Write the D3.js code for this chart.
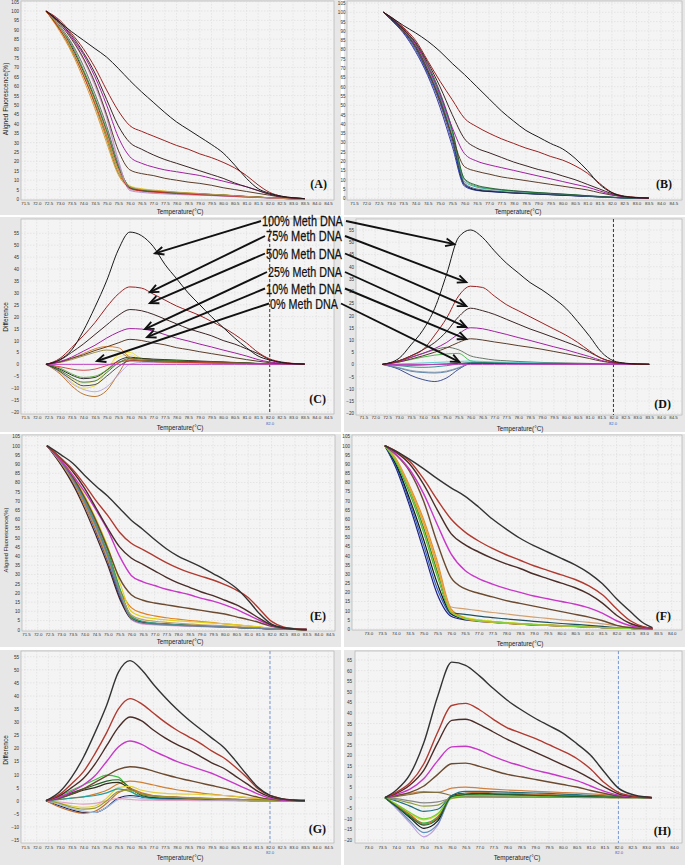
<!DOCTYPE html>
<html><head><meta charset="utf-8">
<script src="https://cdn.jsdelivr.net/npm/d3@7"></script>
<style>body{margin:0;background:#fff}svg{display:block}</style>
</head><body><svg id="c" width="685" height="865"></svg>
<script>
// ---------- DATA ----------
const tempsA = [72.4,73.0,73.5,74.0,74.5,75.0,75.5,76.0,76.5,77.0,77.5,78.0,78.5,79.0,79.5,80.0,80.5,81.0,81.5,82.0,82.5,83.0,83.5];
const a100 = [100,94,89,84.5,80,75.5,69.5,63,57,51.5,46,41,37,33,29,24.5,18,11,5.5,3,1.5,0.7,0.2];
const a75 = [100,95,88,80,70,58,47,39,36,33.5,31,28.5,26.5,24,22,19.5,16.5,12.5,7.5,3.5,1.5,0.6,0.2];
const a50 = [100,94,87,78,67,53,39,30,26.5,23.5,21,19,17,15,13,11,8.5,6.5,4.5,2.5,1.2,0.5,0.2];
const a25 = [100,94,86,77,65,50,33,22.5,19,17,15.5,14.5,13.5,12.5,11,9.5,8,6.5,4.5,2.5,1.2,0.5,0.2];
const a10 = [100,93,85,75,62,45,26,15.5,13.5,12.5,11,10,9,8.3,7.3,6,5,4,3,2,1,0.5,0.2];
const aSamples = [
 [100,90,80,67,51,33,15,7,5.5,4.8,4.2,3.7,3.3,2.9,2.5,2.2,1.8,1.4,1.0,0.7,0.4,0.2,0.1],
 [100,89,78,64,48,30,13,6,4.8,4.2,3.8,3.4,3.0,2.7,2.4,2.1,1.7,1.3,1.0,0.7,0.4,0.2,0.1],
 [100,90,79,66,50,32,14,6.5,5,4.4,3.9,3.5,3.1,2.8,2.4,2.1,1.7,1.3,1.0,0.6,0.3,0.1,0],
 [100,91,81,68,53,36,17,6,4.5,4,3.6,3.2,2.9,2.6,2.3,2,1.7,1.3,1,0.6,0.3,0.1,0],
 [100,91,82,69,54,37,18,6.5,4.7,4.1,3.7,3.3,3.0,2.7,2.4,2.1,1.7,1.3,1.0,0.6,0.3,0.1,0],
 [100,92,83,71,56,39,19,6,4.3,3.8,3.4,3.0,2.7,2.4,2.1,1.8,1.5,1.2,0.9,0.6,0.3,0.1,0],
 [100,93,85,74,60,43,20,5,3.8,3.3,3.0,2.7,2.4,2.1,1.9,1.6,1.3,1.0,0.8,0.5,0.3,0.1,0],
 [100,94,86,75,61,44,21,4.5,3.5,3.0,2.7,2.4,2.2,2.0,1.8,1.5,1.3,1.0,0.8,0.5,0.3,0.1,0],
 [100,90,80,66,51,34,16,5.5,4.3,3.7,3.3,2.9,2.6,2.3,2.0,1.7,1.4,1.1,0.9,0.7,0.5,0.3,0.1],
 [100,91,80,67,52,35,16,6.5,5.2,4.6,4.1,3.6,3.2,2.9,2.5,2.2,1.8,1.4,1.0,0.7,0.4,0.2,0.1]];
const aColors = ['#e8d000','#d88a1a','#7d7a20','#111111','#2e8b2e','#555555','#e0a0c0','#a890d0','#cc2020','#c8a060'];

const tempsB = [72.7,73.0,73.5,74.0,74.5,75.0,75.5,76.0,76.5,77.0,77.5,78.0,78.5,79.0,79.5,80.0,80.5,81.0,81.5,82.0,82.5,83.0,83.5];
const b100 = [100,97.5,93,89,84.5,79,72.5,66.5,60,53.5,47,41.5,36.5,33,29.5,26.5,21.5,15,7.5,3,1,0.4,0.1];
const b75 = [100,97.5,92,85,74,63,53,43,38.5,35,32,29.5,27,25,22.5,20.5,17.5,13.5,8,3.2,1.2,0.5,0.2];
const b50 = [100,97,91,84,73,60,45,32,27,24.5,22,19.5,17.5,15.5,14,12,10,7.5,5,2.5,1,0.4,0.1];
const b25 = [100,97,91,83,71,56,38,24,20,18,16.5,15,13.5,12,10.5,9,7.5,6,4,2,0.8,0.3,0.1];
const b10 = [100,97,90,82,69,52,33,17,14.5,13,11.5,10.5,9.5,8.5,7.5,6.5,5.5,4.5,3,1.7,0.8,0.3,0.1];
const bSamples = [
 [100,96,89,79,66,49,28,6.5,4.2,3.6,3.2,2.8,2.5,2.2,1.9,1.6,1.3,1.0,0.7,0.4,0.2,0.1,0],
 [100,96.5,89.5,80,67,51,30,7,4.4,3.7,3.3,2.9,2.6,2.3,2.0,1.7,1.4,1.1,0.8,0.5,0.2,0.1,0],
 [100,96.5,90,81,68,53,32,7.5,4.5,3.8,3.3,2.9,2.6,2.3,2.0,1.7,1.4,1.1,0.8,0.5,0.2,0.1,0],
 [100,97,91,82,70,55,35,9,6,5,4.3,3.8,3.3,2.9,2.5,2.1,1.7,1.3,0.9,0.5,0.3,0.1,0],
 [100,97,91,83,71,56,36,10,6.5,5.3,4.5,3.9,3.4,3.0,2.6,2.2,1.8,1.3,0.9,0.5,0.3,0.1,0],
 [100,97,91.5,83.5,72,57,37,10.5,7,5.6,4.7,4.1,3.6,3.1,2.7,2.3,1.9,1.4,1.0,0.6,0.3,0.1,0],
 [100,96.8,90.5,81.5,69,54,33,8,5,4.2,3.6,3.1,2.7,2.4,2.1,1.8,1.5,1.1,0.8,0.5,0.2,0.1,0]];
const bColors = ['#1a1a8c','#2040c0','#111111','#20a0a0','#30a030','#205030','#405070'];

const tempsC = [72.4,73.0,73.5,74.0,74.5,75.0,75.5,76.0,76.5,77.0,77.5,78.0,78.5,79.0,79.5,80.0,80.5,81.0,81.5,82.0,82.5,83.0,83.5];
const c100 = [0,2,6,14,24,35,48,55.5,54,49.5,42,36,30,25,20,15.5,11,7,3.5,1.8,0.8,0.3,0.1];
const c75 = [0,2.5,7,12,17.5,24,29.5,32.5,32,29.5,27,24.5,22.5,20.5,18,15.5,12.5,9,5,2.3,1,0.4,0.1];
const c50 = [0,1.8,5,8.5,12.5,16.5,20.5,23,22.5,21,19,17,15,13.5,12,10,8.5,6.5,4.5,2,0.8,0.3,0.1];
const c25 = [0,1.2,3,5.5,8,11,13.5,15,14.8,14,12.5,11,9.8,8.5,7.3,6,4.8,3.5,2,1,0.5,0.2,0.1];
const c10 = [0,1,2.5,4,5.8,7.3,9,10.5,10,9,8.2,7,6.2,5.3,4.5,3.7,2.8,2,1.3,0.7,0.3,0.1,0];
const c0 = [0,0,0,0,0,0,0,0,0,0,0,0,0,0,0,0,0,0,0,0,0,0,0];
const cSamples = [
 [0,-4,-9,-12.5,-13.5,-11,-4,2.5,2.5,2,1.7,1.5,1.3,1.2,1.0,0.9,0.7,0.5,0.3,0.2,0.1,0,0],
 [0,-3.5,-8,-10.5,-11.5,-9.5,-4.5,0,0.8,0.8,0.7,0.6,0.5,0.5,0.4,0.3,0.3,0.2,0.1,0.1,0,0,0],
 [0,-3,-7.5,-10,-9,-3,4,5,2.5,1.8,1.5,1.3,1.2,1.0,0.9,0.8,0.6,0.5,0.3,0.2,0.1,0,0],
 [0,-2.5,-6,-8,-7,-2,3,4,2,1.5,1.3,1.2,1.0,0.9,0.8,0.7,0.5,0.4,0.3,0.2,0.1,0,0],
 [0,-2,-4.5,-6,-5.5,-2.5,1.5,3,2.5,2.2,2,1.8,1.6,1.4,1.2,1.0,0.8,0.6,0.4,0.2,0.1,0,0],
 [0,-2.5,-5.5,-7.5,-7,-3.5,0.5,2.5,2.2,2,1.8,1.6,1.4,1.2,1.0,0.9,0.7,0.5,0.3,0.2,0.1,0,0],
 [0,-1.5,-4,-5.5,-5,-2.5,0.5,2,1.8,1.7,1.5,1.4,1.2,1.1,1.0,0.8,0.7,0.5,0.3,0.2,0.1,0,0],
 [0,-3,-6.5,-9,-8.5,-5,-1,1.5,1.6,1.5,1.4,1.2,1.1,1.0,0.9,0.8,0.6,0.5,0.3,0.2,0.1,0,0],
 [0,1,2.5,4.5,6.5,7.5,7,3,1.5,1.2,1.0,0.9,0.8,0.7,0.6,0.5,0.4,0.3,0.2,0.1,0,0,0],
 [0,0.8,2,3.5,5,6,5.5,2.5,1.5,1.2,1.0,0.9,0.8,0.7,0.6,0.5,0.4,0.3,0.2,0.1,0,0,0],
 [0,-1,-2,-2.5,-2,-0.5,1,1.5,1.3,1.1,1.0,0.9,0.8,0.7,0.6,0.5,0.5,0.4,0.3,0.2,0.1,0,0]];
const cColors = ['#b06010','#b0a0e0','#e8d830','#f0e070','#111111','#2a6a2a','#50a030','#303030','#d07020','#908030','#d03030'];

const tempsD = [72.3,73.0,73.5,74.0,74.5,75.0,75.5,76.0,76.5,77.0,77.5,78.0,78.5,79.0,79.5,80.0,80.5,81.0,81.5,82.0,82.5,83.0,83.5];
const d100 = [0,2.5,8,14,23,37,52,55,52,46.5,41.5,37.5,33.5,30.5,27,23,17.5,11.5,5,1.5,0.5,0.2,0.1];
const d75 = [0,1.5,3.5,6,12,19,28,32,31.5,28,24.5,22,19.5,17,14.5,12,9,5.5,2.5,1,0.4,0.1,0];
const d50 = [0,1.5,3.5,6,9,13.5,19.5,23,22,20.5,18.5,16.5,14.5,12.8,11,9.2,7.3,5,2.5,1,0.4,0.1,0];
const d25 = [0,1.2,2.8,4.5,6.5,9,12.5,15,14.6,13.5,12.3,11,9.8,8.5,7.2,6,4.6,3.2,1.6,0.7,0.3,0.1,0];
const d10 = [0,1,2.2,3.5,5,6.8,9,10.5,10,9.2,8.5,7.7,7,6.2,5.3,4.4,3.4,2.4,1.3,0.6,0.3,0.1,0];
const d0 = [0,0,0,0,0,0,0,0,0,0,0,0,0,0,0,0,0,0,0,0,0,0,0];
const dSamples = [
 [0,-2,-4.5,-6.2,-7,-5.5,-2,0.3,0.5,0.5,0.4,0.4,0.3,0.3,0.2,0.2,0.1,0.1,0,0,0,0,0],
 [0,-1.5,-2.8,-3.3,-3.5,-3,-1.5,0.5,0.6,0.5,0.4,0.4,0.3,0.3,0.2,0.2,0.1,0.1,0,0,0,0,0],
 [0,-1.3,-2.5,-3,-3.2,-2.7,-1.3,0.3,0.5,0.4,0.4,0.3,0.3,0.2,0.2,0.1,0.1,0,0,0,0,0,0],
 [0,1.5,3,4.5,6,7,6,3.5,2.5,1.8,1.5,1.2,1.0,0.8,0.7,0.6,0.5,0.4,0.3,0.2,0.1,0,0],
 [0,1,2,3,3.8,4.3,4.5,1.5,0.8,0.6,0.5,0.4,0.4,0.3,0.3,0.2,0.2,0.1,0.1,0,0,0,0],
 [0,0.2,0.4,0.6,0.8,1.0,1.2,1.4,1.2,1.0,0.9,0.8,0.7,0.6,0.5,0.4,0.3,0.2,0.1,0.1,0,0,0],
 [0,-0.2,-0.3,-0.2,0,0.2,0.4,0.5,0.5,0.4,0.4,0.3,0.3,0.2,0.2,0.2,0.1,0.1,0,0,0,0,0],
 [0,-0.5,-1,-1.2,-1,-0.5,0.2,0.8,0.7,0.6,0.5,0.4,0.4,0.3,0.3,0.2,0.2,0.1,0.1,0,0,0,0]];
const dColors = ['#203080','#4070a0','#8090a8','#506050','#30b030','#40c8c8','#111111','#208080'];

const tempsE = [72.4,73.0,73.5,74.0,74.5,75.0,75.5,76.0,76.5,77.0,77.5,78.0,78.5,79.0,79.5,80.0,80.5,81.0,81.5,82.0,82.5,83.0,83.5];
const e100 = [100,95,90.5,84,78,72.5,66,59.5,54.5,49,44,40,37,34,30.5,27,22.5,16,8.5,3,1.1,0.4,0.1];
const e75 = [100,93,87,79,70,62,53,47,43.5,40,36.5,33.5,31,29,27,24.5,21.5,17.5,11,4.5,1.5,0.5,0.1];
const e50 = [100,93,86,77,66,55,45,39,35.5,32,28.5,25.5,23,20.5,18.5,16,13.5,10,6,2.5,0.9,0.3,0.1];
const e25 = [100,92,84,75,65,54,40,29.5,26,24,22,20.5,19,17,15.5,13.5,11,8,5,2.3,0.9,0.3,0.1];
const e10 = [100,92,83,72,59,44,28,19,16,14.5,13.5,12.5,11.5,10.5,9.5,8.5,7,5.5,3.8,1.8,0.7,0.2,0.1];
const eSamples = [
 [100,90,80,68,53,37,18,6,3.5,3,2.6,2.3,2.0,1.8,1.6,1.4,1.2,0.9,0.7,0.4,0.2,0.1,0],
 [100,90.5,81,69,55,39,20,6.5,4,3.3,2.9,2.6,2.3,2.0,1.8,1.5,1.3,1.0,0.7,0.4,0.2,0.1,0],
 [100,90,80.5,68,54,38,22,12,9,7.5,6.5,5.7,5,4.4,3.8,3.2,2.6,2,1.4,0.8,0.4,0.1,0],
 [100,92,83,72,59,43,23,7,4,3.2,2.8,2.5,2.2,2.0,1.8,1.5,1.3,1.0,0.7,0.4,0.2,0.1,0],
 [100,92.5,84,73,60,45,26,10,7,6,5.3,4.8,4.4,4.0,3.6,3.2,2.7,2.1,1.5,0.8,0.4,0.1,0],
 [100,91.5,82.5,71,57,41,22,7,4.2,3.5,3.0,2.7,2.4,2.1,1.8,1.6,1.3,1.0,0.7,0.4,0.2,0.1,0],
 [100,91,81.5,70,56,40,21,5.5,3,2.6,2.3,2.1,1.9,1.7,1.5,1.3,1.1,0.9,0.6,0.4,0.2,0.1,0],
 [100,89.5,79,66,51,35,17,6,4,3.4,3.0,2.7,2.4,2.1,1.9,1.6,1.3,1.0,0.7,0.4,0.2,0.1,0],
 [100,91,82,70.5,57,41,22,7.5,4.5,3.6,3.1,2.7,2.4,2.1,1.8,1.6,1.3,1.0,0.7,0.4,0.2,0.1,0],
 [100,90.5,81,69,55,39,21,8,5.5,4.6,4.0,3.5,3.1,2.7,2.4,2.1,1.7,1.3,0.9,0.5,0.2,0.1,0],
 [100,91,81.5,69.5,56,40,20,6,3.6,3.0,2.6,2.3,2.1,1.9,1.7,1.5,1.2,1.0,0.7,0.4,0.2,0.1,0]];
const eColors = ['#3050c0','#111111','#e08020','#30a030','#e0d020','#70a020','#e0a0d0','#402020','#30a090','#c0a060','#7080a0'];

const tempsF = [73.6,74.0,74.5,75.0,75.5,76.0,76.5,77.0,77.5,78.0,78.5,79.0,79.5,80.0,80.5,81.0,81.5,82.0,82.5,83.0,83.3];
const f100 = [100,97,92.5,87.5,82,77,72.5,66.5,60,54.5,49.5,45.5,42,38.5,35,30.5,24.5,16.5,9.5,3,0.8];
const f75 = [100,97,91.5,82,70.5,60,53,48,44,40.5,37.5,34.5,32,29.5,27,23.5,18.5,11,4.5,1.2,0.4];
const f50 = [100,96.5,90,79,65,52,46,42,38.5,35.5,33,30,27.5,25,22.5,19,14,7.5,3,1,0.3];
const f25 = [100,95.5,87,74,57,41,32,27.5,24.5,22,20,18,16.5,15,13.5,11.5,8.5,4.5,1.8,0.6,0.2];
const f10 = [100,95,86,70,47,28,22,19.5,17.5,15.5,14,12.5,11,9.5,8,6.5,4.5,2,0.8,0.3,0.1];
const fSamples = [
 [100,88,67,43,19,7,5,4.2,3.6,3.1,2.7,2.3,2.0,1.7,1.4,1.1,0.8,0.5,0.3,0.1,0],
 [100,89,69,46,22,8,5.5,4.6,3.9,3.3,2.8,2.4,2.1,1.8,1.5,1.2,0.9,0.6,0.3,0.1,0],
 [100,90,71,49,25,8.5,5.5,4.5,3.8,3.2,2.7,2.3,2.0,1.7,1.4,1.1,0.8,0.5,0.3,0.1,0],
 [100,91,74,53,29,9.5,6,4.8,4.0,3.4,2.9,2.5,2.1,1.8,1.5,1.2,0.9,0.6,0.3,0.1,0],
 [100,92,76,56,32,10,6.5,5,4.2,3.5,3.0,2.6,2.2,1.9,1.6,1.3,1.0,0.6,0.3,0.1,0],
 [100,93,78,60,37,11,6,4.5,3.8,3.2,2.8,2.4,2.1,1.8,1.5,1.2,0.9,0.6,0.3,0.1,0],
 [100,92.5,77,58,35,12,11,10,9,8.2,7.3,6.5,5.8,5.0,4.3,3.6,2.8,1.8,0.8,0.2,0],
 [100,91.5,75,55,31,9,8,7,6.2,5.5,4.8,4.2,3.6,3.0,2.5,2.0,1.4,0.8,0.4,0.1,0],
 [100,92.5,77,58,34,10,5.5,4.3,3.6,3.0,2.6,2.2,1.9,1.6,1.3,1.0,0.7,0.5,0.3,0.1,0],
 [100,91.5,75,54,30,9,5.8,4.6,3.9,3.3,2.8,2.4,2.0,1.7,1.4,1.1,0.8,0.5,0.3,0.1,0]];
const fColors = ['#202080','#3060c0','#111111','#30b030','#e0e020','#e09020','#d0a070','#205060','#f0a030','#80d040'];

const tempsG = [72.4,73.0,73.5,74.0,74.5,75.0,75.5,76.0,76.5,77.0,77.5,78.0,78.5,79.0,79.5,80.0,80.5,81.0,81.5,82.0,82.5,83.0,83.5];
const g100 = [0,3.5,9,16.5,26,36.5,49,53.5,50,44.5,39.5,35,31,27.5,24,20.5,15.5,10,5,2,0.8,0.3,0.1];
const g75 = [0,2.5,6.5,11,18,26,35,39,37,33.5,30,27,24.5,22,19,16.5,13,9,4.5,2,0.8,0.3,0.1];
const g50 = [0,2,5,8.5,14,21,28,32,30.5,27,24,21.5,19.5,17,14.5,12.5,9.5,6.5,3.5,1.5,0.6,0.2,0.1];
const g25 = [0,1.5,3.5,6,9.5,15,20.5,22.8,21.5,19,17,15,13.5,12,10.5,8.5,6.5,4.5,2.5,0.9,0.3,0.1,0];
const g10 = [0,1,2.5,4.5,7,9.5,12,13,12.5,11.3,10,8.8,7.8,6.8,5.8,4.8,3.6,2.4,1.3,0.6,0.2,0.1,0];
const gSamples = [
 [0,0.5,1,1.5,2.5,4,6.5,7.5,7,6,5,4.2,3.6,3.0,2.5,2.0,1.6,1.2,0.8,0.4,0.2,0.1,0],
 [0,2,4,6,8,9.8,9,4,1.5,1,0.8,0.6,0.5,0.4,0.3,0.2,0.2,0.1,0,0,0,0,0],
 [0,1.5,3,4.5,6,7.5,8,5,2,1.2,0.9,0.7,0.6,0.5,0.4,0.3,0.2,0.1,0,0,0,0,0],
 [0,1,2.5,4,5,6.5,7,4.5,2.5,1.8,1.5,1.3,1.1,0.9,0.8,0.7,0.5,0.4,0.3,0.2,0.1,0,0],
 [0,-1,-2,-2.5,-2,1,5,5.5,4,3.2,2.8,2.6,2.5,2.4,2.2,2.0,1.7,1.3,0.9,0.5,0.2,0.1,0],
 [0,-2,-3.5,-4.5,-4.5,-2.5,1,2,1.5,1.0,0.8,0.6,0.5,0.4,0.3,0.3,0.2,0.1,0,0,0,0,0],
 [0,-2.5,-4,-4.8,-4,-1,3,4.5,3,2,1.6,1.4,1.2,1.0,0.9,0.7,0.5,0.4,0.2,0.1,0,0,0],
 [0,-1.5,-3,-4,-4.5,-2.5,0.5,1.5,0.8,0.5,0.3,0.3,0.2,0.2,0.1,0.1,0,0,0,0,0,0,0],
 [0,0.5,1,1.5,2,3,4.5,3.5,1.5,0.8,0.6,0.5,0.4,0.3,0.2,0.2,0.1,0,0,0,0,0,0],
 [0,-0.5,-1,-1.3,-1,0,0.8,0.5,0.2,0.2,0.1,0.1,0.1,0,0,0,0,0,0,0,0,0,0],
 [0,-1,-2.5,-3.2,-2.8,0,3.5,4,2.5,1.8,1.5,1.3,1.1,1.0,0.8,0.6,0.5,0.3,0.2,0.1,0,0,0]];
const gColors = ['#d08030','#40c040','#206020','#303020','#e0d040','#202060','#c07030','#a0c0e0','#20a0a0','#e0a0c0','#9a9a30'];

const tempsH = [73.6,74.0,74.5,75.0,75.5,76.0,76.5,77.0,77.5,78.0,78.5,79.0,79.5,80.0,80.5,81.0,81.5,82.0,82.5,83.0,83.2];
const h100 = [0,3.5,11,26,48,64,62.5,57.5,51.5,46,41.5,37.5,34,30.5,25.5,20,12,4.5,1.5,0.3,0.1];
const h75 = [0,2.5,7,16,31,43.5,44.5,41.5,37,33,30.5,28,25,22,18.5,13.5,7,2.5,0.8,0.2,0.1];
const h50 = [0,2,6,13,26,36.5,37,34.5,31,27.5,24.5,21.5,18.5,15.5,12.5,9,5,1.8,0.6,0.2,0];
const h25 = [0,1.5,4,9,17.5,24,24.3,22.5,19.5,17,15,13,11.5,9.8,8,5.5,3,1.2,0.4,0.1,0];
const h10 = [0,1,2.5,5.5,11,16,16.3,14.8,12.8,11,9.8,8.6,7.4,6.2,5,3.4,2,0.8,0.3,0.1,0];
const hSamples = [
 [0,1,2,2.8,2.5,4.5,5,4.5,4,3.6,3.3,3.0,2.7,2.4,2.1,1.8,1.4,1.0,0.5,0.2,0],
 [0,0.5,1.5,2.5,2.5,1,0.5,0.4,0.4,0.3,0.3,0.2,0.2,0.2,0.1,0.1,0.1,0,0,0,0],
 [0,-5,-12,-18.5,-13,0.5,0.8,0.8,0.7,0.6,0.5,0.4,0.3,0.3,0.2,0.2,0.1,0.1,0,0,0],
 [0,-4.5,-11,-16.5,-12.5,0,0.8,0.8,0.7,0.6,0.5,0.4,0.3,0.3,0.2,0.2,0.1,0.1,0,0,0],
 [0,-4,-9.5,-14.5,-11,1,2,2,1.8,1.6,1.4,1.2,1.0,0.8,0.6,0.5,0.3,0.2,0.1,0,0],
 [0,-3.5,-8.5,-12,-9,0.5,1.3,1.5,1.3,1.2,1.0,0.9,0.7,0.6,0.5,0.4,0.3,0.2,0.1,0,0],
 [0,-3,-7.5,-10.5,-8,-0.5,0.3,0.5,0.4,0.3,0.3,0.2,0.2,0.2,0.1,0.1,0.1,0,0,0,0],
 [0,-3.5,-8,-12.5,-9.5,0.5,2,2.5,2.2,2.0,1.8,1.6,1.4,1.2,1.0,0.8,0.6,0.4,0.2,0.1,0],
 [0,-1.5,-4,-6.5,-5.5,1,3,3,2.8,2.6,2.4,2.2,2.0,1.7,1.4,1.1,0.8,0.5,0.2,0.1,0],
 [0,-1,-2.5,-4,-3.5,0,0.5,0.5,0.4,0.4,0.3,0.3,0.2,0.2,0.1,0.1,0.1,0,0,0,0],
 [0,-0.5,-1.5,-2.5,-2,-0.3,0.3,0.3,0.3,0.2,0.2,0.2,0.1,0.1,0.1,0,0,0,0,0,0],
 [0,-3,-7,-10,-7.5,0,1,1.3,1.2,1.0,0.9,0.8,0.7,0.6,0.5,0.4,0.3,0.2,0.1,0,0],
 [0,-4,-9,-13,-10,0.5,1.5,1.8,1.6,1.4,1.2,1.0,0.9,0.7,0.6,0.5,0.3,0.2,0.1,0,0]];
const hColors = ['#d08040','#807040','#c0a0e0','#6090c0','#111111','#30b030','#e0d030','#c07030','#207080','#90a040','#888888','#70d030','#206030'];

const xTicksWide = d3.range(0, 27).map(i => 71.5 + i * 0.5);   // 71.5 … 84.5
const xTicksNarrow = d3.range(0, 23).map(i => 73.0 + i * 0.5); // 73.0 … 84.0
const yTicksFluor = d3.range(0, 22).map(i => i * 5);          // 0 … 105
const yTicksDiffC = d3.range(-4, 12).map(i => i * 5);         // -20 … 55
const yTicksDiffG = d3.range(-3, 12).map(i => i * 5);         // -15 … 55
const yTicksDiffH = d3.range(-4, 14).map(i => i * 5);         // -20 … 65
const markerTemp = 82.0;

const annotLabels = ['100% Meth DNA','75% Meth DNA','50% Meth DNA','25% Meth DNA','10% Meth DNA','0% Meth DNA'];
const arrowTargetsC = [[77.08,46.6],[76.86,30.3],[76.86,25.7],[76.65,14.8],[76.74,11.4],[74.59,1.4]];
const arrowTargetsD = [[75.32,49.2],[75.82,33.7],[75.82,23.9],[75.82,15.3],[75.82,10.4],[75.53,1.0]];

// ---------- STYLE / LAYOUT ----------
const stdColsDark = {s100:'#1a1a1a', s75:'#9a2020', s50:'#3c2424', s25:'#a020a0', s10:'#5c3c28'};
const stdColsLight = {s100:'#333333', s75:'#b03a30', s50:'#4a2c28', s25:'#c838c8', s10:'#6b4a30'};
const FONT = "'Liberation Sans', Arial, sans-serif";

const panels = [
 {id:'A', box:[0,0,341,215], plot:[21,1,334,200], xd:[71.5,84.5], xr:[25,328], yd:[0,105], yr:[199,1.6], xt:xTicksWide, yt:yTicksFluor,
  temps:tempsA, std:[a10,a25,a50,a75,a100], samples:aSamples, sCols:aColors, cols:stdColsDark, lw:1.0,
  yLabX:19, xLabY:201.5, xTitle:[180,214], yTitle:'Aligned Fluorescence(%)', yTitlePos:[6,99], yTitleSize:6.5, lab:[327,188]},
 {id:'B', box:[344,0,685,215], plot:[347,1,682,200], xd:[71.5,84.5], xr:[354,673.3], yd:[0,105], yr:[198.3,3], xt:xTicksWide, yt:yTicksFluor,
  temps:tempsB, std:[b10,b25,b50,b75,b100], samples:bSamples, sCols:bColors, cols:stdColsDark, lw:1.0,
  yLabX:345.5, xLabY:201.5, xTitle:[518,214], lab:[672,188]},
 {id:'C', box:[0,217,341,432], plot:[21,219,334,414], xd:[71.5,84.5], xr:[25,328], yd:[-20,55], yr:[412,233.3], xt:xTicksWide, yt:yTicksDiffC,
  temps:tempsC, std:[c10,c25,c50,c75,c100], zero:c0, samples:cSamples, sCols:cColors, cols:stdColsDark, lw:1.0,
  yLabX:19, xLabY:415.5, xTitle:[180,430], yTitle:'Difference', yTitlePos:[6,317], yTitleSize:6.5, lab:[326,403],
  dash:'#222', blueLab:[270,424.5]},
 {id:'D', box:[344,217,685,432], plot:[356,219,682,415], xd:[71.5,84.5], xr:[363.3,673], yd:[-20,55], yr:[413.3,230], xt:xTicksWide, yt:yTicksDiffC,
  temps:tempsD, std:[d10,d25,d50,d75,d100], zero:d0, samples:dSamples, sCols:dColors, cols:stdColsDark, lw:1.0,
  yLabX:354, xLabY:416, xTitle:[520,431], lab:[671,408], dash:'#222', blueLab:[613,425]},
 {id:'E', box:[0,434,341,647], plot:[22,435,335,631], xd:[71.5,84.5], xr:[26,330], yd:[0,105], yr:[629.7,436.5], xt:xTicksWide, yt:yTicksFluor,
  temps:tempsE, std:[e10,e25,e50,e75,e100], samples:eSamples, sCols:eColors, cols:stdColsLight, lw:1.4,
  yLabX:20, xLabY:632.5, xTitle:[180,644], yTitle:'Aligned Fluorescence(%)', yTitlePos:[6,540], yTitleSize:5.8, lab:[326,620]},
 {id:'F', box:[344,434,685,647], plot:[352,435,682,630], xd:[73.0,84.0], xr:[368.3,671.7], yd:[0,105], yr:[629,436.5], xt:xTicksNarrow, yt:yTicksFluor,
  temps:tempsF, std:[f10,f25,f50,f75,f100], samples:fSamples, sCols:fColors, cols:stdColsLight, lw:1.4,
  yLabX:350, xLabY:632, xTitle:[520,646], lab:[671,620]},
 {id:'G', box:[0,650,341,865], plot:[21,651,334,843], xd:[71.5,84.5], xr:[25,328.3], yd:[-15,55], yr:[840,656.7], xt:xTicksWide, yt:yTicksDiffG,
  temps:tempsG, std:[g10,g25,g50,g75,g100], samples:gSamples, sCols:gColors, cols:stdColsLight, lw:1.4,
  yLabX:19, xLabY:846, xTitle:[180,860], yTitle:'Difference', yTitlePos:[6,750], yTitleSize:6.5, lab:[326,833],
  dash:'#6a90d0', blueLab:[270,854]},
 {id:'H', box:[344,650,685,865], plot:[355,651,682,843], xd:[73.0,84.0], xr:[368.3,674], yd:[-20,65], yr:[840,660], xt:xTicksNarrow, yt:yTicksDiffH,
  temps:tempsH, std:[h10,h25,h50,h75,h100], samples:hSamples, sCols:hColors, cols:stdColsLight, lw:1.4,
  yLabX:352, xLabY:846, xTitle:[517,860], lab:[671,835], dash:'#6a90d0', blueLab:[619,854]}
];

const svg = d3.select('#c');
svg.append('rect').attr('width',685).attr('height',865).attr('fill','#fff');
const scales = {};

function drawPanel(p){
  const g = svg.append('g');
  const [bx1,by1,bx2,by2] = p.box;
  g.append('rect').attr('x',bx1).attr('y',by1).attr('width',bx2-bx1).attr('height',by2-by1).attr('fill','#e7e7e7');
  const [px1,py1,px2,py2] = p.plot;
  g.append('rect').attr('x',px1).attr('y',py1).attr('width',px2-px1).attr('height',py2-py1)
    .attr('fill','#f4f4f4').attr('stroke','#a8a8a8').attr('stroke-width',0.6);
  const x = d3.scaleLinear().domain(p.xd).range(p.xr);
  const y = d3.scaleLinear().domain(p.yd).range(p.yr);
  scales[p.id] = {x,y};

  const grid = g.append('g').attr('stroke','#d6d6d6').attr('stroke-width',0.5).attr('stroke-dasharray','1.5,1.5');
  p.xt.forEach(t => { const xx = x(t); if (xx>px1 && xx<px2) grid.append('line').attr('x1',xx).attr('x2',xx).attr('y1',py1).attr('y2',py2); });
  p.yt.forEach(t => { const yy = y(t); if (yy>py1 && yy<py2) grid.append('line').attr('x1',px1).attr('x2',px2).attr('y1',yy).attr('y2',yy); });

  const xa = d3.axisBottom(x).tickValues(p.xt).tickFormat(d3.format('.1f')).tickSize(0).tickPadding(0);
  const xg = g.append('g').attr('transform',`translate(0,${p.xLabY})`).call(xa);
  xg.select('.domain').remove();
  xg.attr('font-size',4.4).attr('font-family',FONT).selectAll('text').attr('fill','#333');

  const ya = d3.axisLeft(y).tickValues(p.yt).tickFormat(d3.format('d')).tickSize(0).tickPadding(0);
  const yg = g.append('g').attr('transform',`translate(${p.yLabX},0)`).call(ya);
  yg.select('.domain').remove();
  yg.attr('font-size',4.6).attr('font-family',FONT).selectAll('text').attr('fill','#333');

  g.append('text').attr('x',p.xTitle[0]).attr('y',p.xTitle[1]).attr('text-anchor','middle')
    .attr('font-family',FONT).attr('font-size',6.3).attr('fill','#222').text('Temperature(°C)');
  if (p.yTitle) {
    g.append('text').attr('transform',`translate(${p.yTitlePos[0]+2},${p.yTitlePos[1]}) rotate(-90)`)
      .attr('text-anchor','middle').attr('font-family',FONT).attr('font-size',p.yTitleSize).attr('fill','#222').text(p.yTitle);
  }

  const clipId = 'clip'+p.id;
  svg.append('clipPath').attr('id',clipId).append('rect').attr('x',px1).attr('y',py1).attr('width',px2-px1).attr('height',py2-py1);
  const cg = g.append('g').attr('clip-path',`url(#${clipId})`);

  if (p.dash) {
    cg.append('line').attr('x1',x(markerTemp)).attr('x2',x(markerTemp)).attr('y1',py1).attr('y2',py2)
      .attr('stroke',p.dash).attr('stroke-width',0.9).attr('stroke-dasharray','3,2');
  }

  const line = d3.line().x(d=>x(d[0])).y(d=>y(d[1])).curve(d3.curveMonotoneX);
  const mk = vals => p.temps.map((t,i)=>[t, vals[i]]);
  p.samples.forEach((s,i) => {
    cg.append('path').attr('d',line(mk(s))).attr('fill','none').attr('stroke',p.sCols[i]).attr('stroke-width',p.lw*0.85);
  });
  if (p.zero) cg.append('path').attr('d',line(mk(p.zero))).attr('fill','none').attr('stroke','#c040c0').attr('stroke-width',p.lw);
  const stdC = [p.cols.s10,p.cols.s25,p.cols.s50,p.cols.s75,p.cols.s100];
  p.std.forEach((s,i) => {
    cg.append('path').attr('d',line(mk(s))).attr('fill','none').attr('stroke',stdC[i]).attr('stroke-width',p.lw);
  });

  if (p.blueLab) {
    g.append('text').attr('x',p.blueLab[0]).attr('y',p.blueLab[1]).attr('text-anchor','middle')
      .attr('font-family',FONT).attr('font-size',4.2).attr('fill','#3a66cc').text(d3.format('.1f')(markerTemp));
  }
  g.append('text').attr('x',p.lab[0]).attr('y',p.lab[1]).attr('text-anchor','end')
    .attr('font-family',"'Liberation Serif','Times New Roman',serif").attr('font-weight','bold')
    .attr('font-size',12).attr('fill','#111').text(`(${p.id})`);
}
panels.forEach(drawPanel);

// ---------- ANNOTATIONS ----------
const rowY = [221,236,253.5,272,288.5,303.5];
const leftX = [262,266,266,268,266,270];
const rightX = [343,342,342,342,342,338];
const ann = svg.append('g');
function arrow(x1,y1,x2,y2){
  ann.append('line').attr('x1',x1).attr('y1',y1).attr('x2',x2).attr('y2',y2)
    .attr('stroke','#111').attr('stroke-width',1.9);
  const a = Math.atan2(y1-y2, x1-x2), L = 9.5, w = 0.42;
  const p1 = [x2 + L*Math.cos(a+w), y2 + L*Math.sin(a+w)];
  const p2 = [x2 + L*Math.cos(a-w), y2 + L*Math.sin(a-w)];
  ann.append('path').attr('d',`M${p1[0]},${p1[1]}L${x2},${y2}L${p2[0]},${p2[1]}`)
    .attr('fill','none').attr('stroke','#111').attr('stroke-width',1.9).attr('stroke-linejoin','miter');
}
annotLabels.forEach((t,i) => {
  const sc = scales.C, sd = scales.D;
  arrow(leftX[i]-1, rowY[i], sc.x(arrowTargetsC[i][0]), sc.y(arrowTargetsC[i][1]));
  arrow(rightX[i]+3, rowY[i], sd.x(arrowTargetsD[i][0]), sd.y(arrowTargetsD[i][1]));
  const tx = ann.append('text').attr('x',0).attr('y',0).attr('font-family',FONT).attr('font-size',14)
    .attr('fill','#111').attr('stroke','#111').attr('stroke-width',0.25).text(t);
  const natural = tx.node().getComputedTextLength();
  const sx = (rightX[i]-leftX[i]) / natural;
  tx.attr('transform',`translate(${leftX[i]},${rowY[i]+5}) scale(${sx},1)`);
});
</script></body></html>
